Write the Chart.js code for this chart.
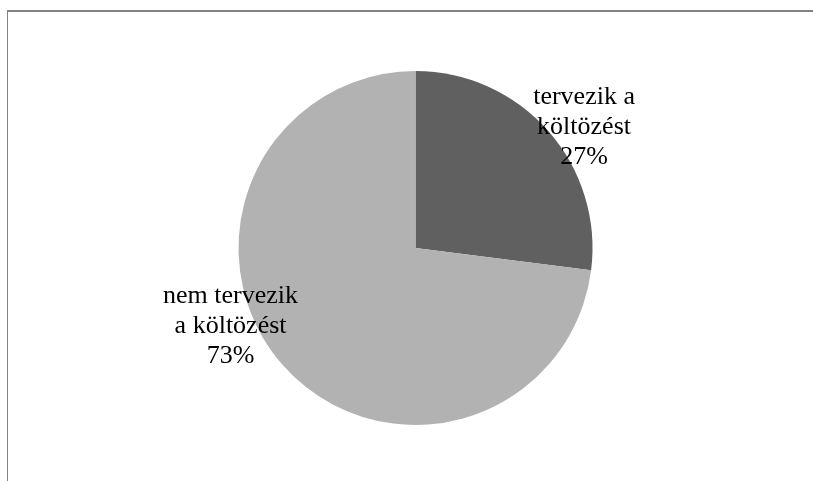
<!DOCTYPE html>
<html>
<head>
<meta charset="utf-8">
<script src="https://cdn.jsdelivr.net/npm/chart.js@4/dist/chart.umd.min.js"></script>
<style>
  html, body { margin: 0; padding: 0; background: #fff; overflow: hidden; }
  #frame {
    position: absolute; left: 7px; top: 10px; width: 830px; height: 500px;
    border-top: 2px solid #828282; border-left: 1px solid #828282;
  }
  #myChart { position: absolute; left: 0; top: 0; }
</style>
</head>
<body>
<div id="frame"></div>
<canvas id="myChart" width="813" height="481"></canvas>
<script>
// Slices: label lines for each category, and their counts (percent)
var labelLines = [['tervezik a', 'költözést'], ['nem tervezik', 'a költözést']];
var labels = ['tervezik a költözést', 'nem tervezik a költözést'];
var values = [27, 73];
var colors = ['#606060', '#b2b2b2'];

// where the data labels sit, relative to each slice's middle
var labelShift = [7.3, 16.7];   // degrees, clockwise
var labelDist = 1.15;           // times the outer radius
var labelFont = "26px 'Liberation Serif', 'Times New Roman', serif";
var lineHeight = 30;

// Draws "name / name / NN%" next to every slice
const pieLabels = {
    id: 'pieLabels',
    afterDatasetsDraw(chart) {
        const ctx = chart.ctx;
        const meta = chart.getDatasetMeta(0);
        const total = values.reduce((a, b) => a + b, 0);
        ctx.save();
        ctx.font = labelFont;
        ctx.fillStyle = '#000';
        ctx.textAlign = 'center';
        ctx.textBaseline = 'alphabetic';
        meta.data.forEach((arc, i) => {
            const p = arc.getProps(['x', 'y', 'startAngle', 'endAngle', 'outerRadius'], true);
            const mid = (p.startAngle + p.endAngle) / 2 + labelShift[i] * Math.PI / 180;
            const r = p.outerRadius * labelDist;
            const x = p.x + Math.cos(mid) * r;
            const y = p.y + Math.sin(mid) * r;
            const lines = labelLines[i].concat([Math.round(values[i] / total * 100) + '%']);
            // middle line sits on the anchor point
            lines.forEach((t, j) => {
                ctx.fillText(t, x, y + (j - 1) * lineHeight);
            });
        });
        ctx.restore();
    }
};

const data = {
    labels: labels,
    datasets: [{
        data: values,
        backgroundColor: colors,
        borderWidth: 0,
        hoverOffset: 0,
    }]
};

const config = {
    type: 'pie',
    data,
    options: {
        responsive: false,
        animation: false,
        events: [],
        layout: {
            padding: { top: 71, bottom: 56, left: 200, right: 182 }
        },
        plugins: {
            legend: { display: false },
            tooltip: { enabled: false },
        }
    },
    plugins: [pieLabels]
};

var myChart = new Chart(document.getElementById('myChart'), config);
</script>
</body>
</html>
